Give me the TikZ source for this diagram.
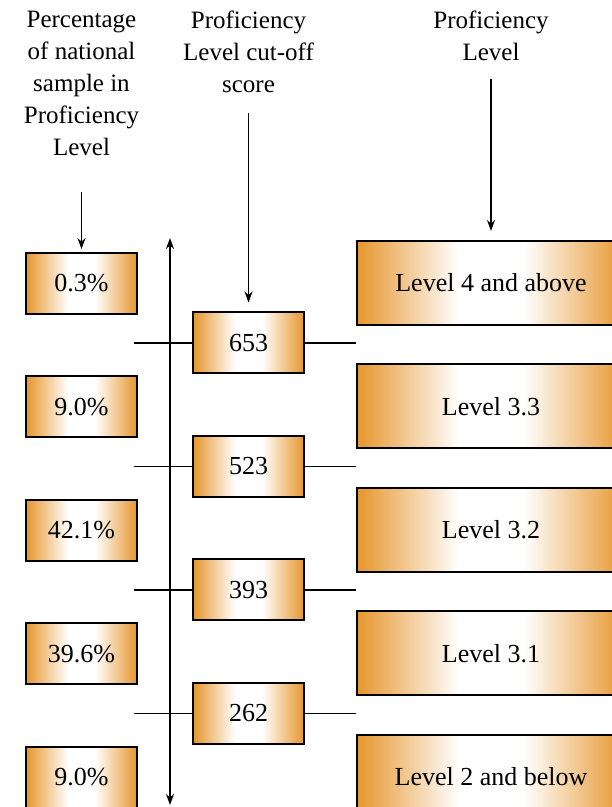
\documentclass[tikz,border=0pt]{standalone}
\usepackage{fontspec}
\setmainfont{Liberation Serif}
\usepackage{tikz}
\usetikzlibrary{arrows.meta, positioning}
\definecolor{boxorange}{RGB}{230,150,45}
\pgfdeclarehorizontalshading{boxfade}{100bp}{color(0bp)=(boxorange); color(25bp)=(boxorange); color(44bp)=(white); color(56bp)=(white); color(75bp)=(boxorange); color(100bp)=(boxorange)}

\begin{document}
\begin{tikzpicture}[
  x=1pt, y=1pt,
  font=\fontsize{25}{32}\selectfont,
  pbox/.style={rectangle, draw=black, line width=2pt, shade, shading=boxfade, minimum width=111pt, minimum height=61pt, align=center, font=\fontsize{26}{32}\selectfont},
  lbox/.style={pbox, minimum width=268pt, minimum height=84pt},
  head/.style={align=center, inner sep=0pt, anchor=north},
  arrow/.style={line width=1.2pt, -{Stealth[length=11pt,width=8pt]}},
  axis/.style={line width=1.2pt, {Stealth[length=11pt,width=8pt]}-{Stealth[length=11pt,width=8pt]}},
  cutline/.style={line width=1.2pt}
]
\useasboundingbox (0,0) rectangle (612,807);

% column headings
\node[head] (lhead) at (81.5,796) {Percentage\\of national\\sample in\\Proficiency\\Level};
\node[head] (mhead) at (248.5,796) {Proficiency\\Level cut-off\\score};
\node[head] (rhead) at (491,796) {Proficiency\\Level};

% percentages
\node[pbox] (pct1) at (81.5,523.5) {0.3\%};
\node[pbox, below=60.5pt of pct1] (pct2) {9.0\%};
\node[pbox, below=60.5pt of pct2] (pct3) {42.1\%};
\node[pbox, below=60.5pt of pct3] (pct4) {39.6\%};
\node[pbox, below=60.5pt of pct4] (pct5) {9.0\%};

% proficiency levels
\node[lbox] (lvl1) at (491,524) {Level 4 and above};
\node[lbox, below=37.5pt of lvl1] (lvl2) {Level 3.3};
\node[lbox, below=37.5pt of lvl2] (lvl3) {Level 3.2};
\node[lbox, below=37.5pt of lvl3] (lvl4) {Level 3.1};
\node[lbox, below=37.5pt of lvl4] (lvl5) {Level 2 and below};

% scale axis
\coordinate (axtop) at (170,569);
\coordinate (axbot) at (170,2);
\draw[axis] (axtop) -- (axbot);

% cut-off scores
\node[pbox] (cut1) at (248.5,464) {653};
\node[pbox, below=60.5pt of cut1] (cut2) {523};
\node[pbox, below=60.5pt of cut2] (cut3) {393};
\node[pbox, below=60.5pt of cut3] (cut4) {262};

\draw[cutline] (cut1.west) -- ++(-58,0);
\draw[cutline] (cut1.east) -- (cut1 -| lvl1.west);
\draw[cutline] (cut2.west) -- ++(-58,0);
\draw[cutline] (cut2.east) -- (cut2 -| lvl1.west);
\draw[cutline] (cut3.west) -- ++(-58,0);
\draw[cutline] (cut3.east) -- (cut3 -| lvl1.west);
\draw[cutline] (cut4.west) -- ++(-58,0);
\draw[cutline] (cut4.east) -- (cut4 -| lvl1.west);

\draw[arrow, shorten <=36pt, shorten >=3pt] (lhead.south) -- (pct1.north);
\draw[arrow, shorten <=20pt, shorten >=9pt] (mhead.south) -- (cut1.north);
\draw[arrow, shorten <=18pt, shorten >=9pt] (rhead.south) -- (lvl1.north);
\end{tikzpicture}
\end{document}
